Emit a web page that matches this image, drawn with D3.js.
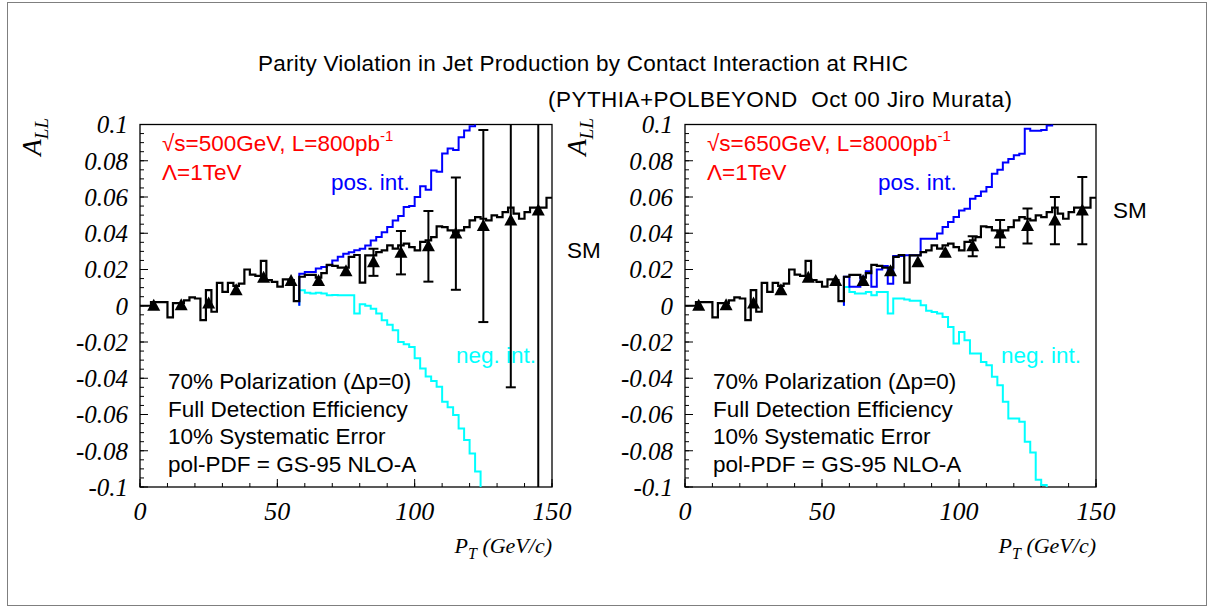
<!DOCTYPE html>
<html><head><meta charset="utf-8">
<script src="https://cdnjs.cloudflare.com/ajax/libs/d3/7.8.5/d3.min.js"></script>
<style>body{margin:0;background:#fff;} svg{display:block;}</style>
</head><body>
<svg id="c" width="1212" height="609"></svg>
<script>
// ---------------- data ----------------
const binWidth = 2;                       // GeV, fine histogram bins
const smBinLow = d3.range(0, 150, 2);     // 0..148
const smALL = [0.000, 0.000, 0.002, 0.002, 0.002, -0.0064, 0.0015, 0.0015, 0.003, 0.0046,
  0.004, -0.0079, 0.0086, -0.0033, 0.0126, 0.0077, 0.0126, 0.011, 0.0122, 0.020,
  0.0172, 0.0165, 0.0248, 0.0141, 0.0132, 0.0105, 0.0145, 0.0141, 0.0026, 0.016,
  0.017, 0.017, 0.0155, 0.018, 0.0225, 0.022, 0.021, 0.021, 0.027, 0.028,
  0.0128, 0.0278, 0.0278, 0.0296, 0.0306, 0.0333, 0.0315, 0.0333, 0.0343, 0.0324,
  0.0306, 0.0352, 0.0361, 0.0379, 0.0438, 0.0434, 0.0416, 0.0407, 0.0416, 0.0434,
  0.0471, 0.0489, 0.048, 0.0471, 0.0499, 0.0489, 0.0517, 0.0541, 0.0508, 0.048,
  0.0517, 0.0541, 0.0541, 0.0541, 0.0596];

const ciStart = 58;
const posIntLeft = [0.0177, 0.0186, 0.0186, 0.0205, 0.0214, 0.0223, 0.025, 0.027, 0.0287, 0.0295,
  0.0306, 0.0315, 0.0333, 0.036, 0.038, 0.0405, 0.0434, 0.047, 0.0495, 0.0545,
  0.055, 0.06, 0.066, 0.064, 0.0746, 0.074, 0.084, 0.0868, 0.086, 0.093,
  0.0967, 0.099, 0.105];
const negIntLeft = [0.0085, 0.0072, 0.0067, 0.0072, 0.0067, 0.0058, 0.006, 0.0058, 0.0058, 0.0058,
  -0.0043, 0.0008, 0.0000, -0.0016, -0.0043, -0.008, -0.0105, -0.0135, -0.02, -0.0213,
  -0.0227, -0.029, -0.0346, -0.039, -0.0415, -0.0447, -0.053, -0.056, -0.0603, -0.0677,
  -0.074, -0.0815, -0.0915, -0.105];
const posIntRight = [0.016, 0.0105, 0.0105, 0.016, 0.019, 0.0105, 0.020, 0.022, 0.0122, 0.0275,
  0.0275, 0.0278, 0.0278, 0.0278, 0.037, 0.037, 0.037, 0.0398, 0.0434, 0.0462,
  0.049, 0.0526, 0.0535, 0.059, 0.0605, 0.063, 0.0655, 0.0728, 0.075, 0.079,
  0.081, 0.083, 0.0838, 0.0976, 0.0965, 0.0965, 0.097, 0.0995, 0.106];
const negIntRight = [0.0104, 0.0076, 0.0067, 0.0067, 0.0076, 0.0058, 0.0076, 0.0076, -0.0043, 0.0040,
  0.0040, 0.0035, 0.0027, 0.0027, 0.0003, -0.0028, -0.0035, -0.0043, -0.0062, -0.0117,
  -0.0208, -0.0145, -0.019, -0.0264, -0.0264, -0.031, -0.0328, -0.0392, -0.0438, -0.053,
  -0.0622, -0.0622, -0.064, -0.075, -0.081, -0.096, -0.0989, -0.105];

const pointPT = [5, 15, 25, 35, 45, 55, 65, 75, 85, 95, 105, 115, 125, 135, 145];
const pointALL = [0.000, 0.0003, 0.0012, 0.0085, 0.0155, 0.0137, 0.0137, 0.019, 0.024, 0.0293,
  0.0328, 0.0398, 0.044, 0.047, 0.0525];
const errLeft = [0, 0, 0, 0, 0, 0.0008, 0.0015, 0.0025, 0.0075, 0.012, 0.0195, 0.031, 0.053, 0.092, 0.2];
const errRight = [0, 0, 0, 0, 0, 0, 0.0005, 0.001, 0.0018, 0.0025, 0.0055, 0.0075, 0.0097, 0.013, 0.0185];

const yTickLabels = ["-0.1", "-0.08", "-0.06", "-0.04", "-0.02", "0", "0.02", "0.04", "0.06", "0.08", "0.1"];
const xTickLabels = ["0", "50", "100", "150"];

const titleText = "Parity Violation in Jet Production by Contact Interaction at RHIC";
const subtitleText = "(PYTHIA+POLBEYOND\u00a0\u00a0Oct 00 Jiro Murata)";
const infoLines = ["70% Polarization (\u0394p=0)", "Full Detection Efficiency", "10% Systematic Error", "pol-PDF = GS-95 NLO-A"];

const panels = [
  {id: "L", left: 140, right: 552, energy: "\u221As=500GeV, L=800pb", pos: posIntLeft, neg: negIntLeft, err: errLeft,
   posLabel: [331, 190], negLabel: [456, 363], smLabel: [567, 258]},
  {id: "R", left: 685, right: 1096, energy: "\u221As=650GeV, L=8000pb", pos: posIntRight, neg: negIntRight, err: errRight,
   posLabel: [878, 190], negLabel: [1001, 363], smLabel: [1113, 218]}
];

// ---------------- drawing ----------------
const svg = d3.select("#c");
const SANS = "'Liberation Sans', Arial, Helvetica, sans-serif";
const SERIF = "'Liberation Serif', 'Times New Roman', serif";
const FS = 22.5;

svg.append("rect").attr("x", 7.5).attr("y", 2.5).attr("width", 1199).attr("height", 603)
  .attr("fill", "none").attr("stroke", "#7f7f7f").attr("stroke-width", 1);

svg.append("text").attr("x", 258).attr("y", 71)
  .attr("font-family", SANS).attr("font-size", 22.5).attr("fill", "#000")
  .attr("textLength", 650).attr("lengthAdjust", "spacing").text(titleText);
svg.append("text").attr("x", 548).attr("y", 107)
  .attr("font-family", SANS).attr("font-size", 22.5).attr("fill", "#000")
  .attr("textLength", 464).attr("lengthAdjust", "spacing").text(subtitleText);

const TOP = 124.5, BOTTOM = 487;

panels.forEach(p => {
  const x = d3.scaleLinear().domain([0, 150]).range([p.left, p.right]);
  const y = d3.scaleLinear().domain([-0.1, 0.1]).range([BOTTOM, TOP]);
  const g = svg.append("g");

  const clipId = "clip" + p.id;
  svg.append("clipPath").attr("id", clipId).append("rect")
    .attr("x", p.left).attr("y", TOP).attr("width", p.right - p.left).attr("height", BOTTOM - TOP);

  // frame
  g.append("rect").attr("x", p.left).attr("y", TOP).attr("width", p.right - p.left).attr("height", BOTTOM - TOP)
    .attr("fill", "none").attr("stroke", "#000").attr("stroke-width", 1.3);

  // y ticks
  const yMinor = d3.range(-0.1, 0.1001, 0.005);
  const yMajor = d3.range(-0.1, 0.1001, 0.02);
  g.selectAll(".ymin").data(yMinor).join("line")
    .attr("x1", p.left).attr("x2", p.left + 4)
    .attr("y1", d => y(d)).attr("y2", d => y(d)).attr("stroke", "#000").attr("stroke-width", 1);
  g.selectAll(".ymaj").data(yMajor).join("line")
    .attr("x1", p.left).attr("x2", p.left + 8)
    .attr("y1", d => y(d)).attr("y2", d => y(d)).attr("stroke", "#000").attr("stroke-width", 1);
  g.selectAll(".ylab").data(yTickLabels).join("text")
    .attr("x", p.left - 12).attr("y", d => y(+d)).attr("dy", "0.35em")
    .attr("text-anchor", "end").attr("font-family", SERIF).attr("font-style", "italic")
    .attr("font-size", 25).attr("fill", "#000").text(d => d);

  // x ticks
  const xMinor = d3.range(0, 151, 10);
  const xMajor = d3.range(0, 151, 50);
  g.selectAll(".xmin").data(xMinor).join("line")
    .attr("x1", d => x(d)).attr("x2", d => x(d)).attr("y1", BOTTOM).attr("y2", BOTTOM - 4)
    .attr("stroke", "#000").attr("stroke-width", 1);
  g.selectAll(".xmaj").data(xMajor).join("line")
    .attr("x1", d => x(d)).attr("x2", d => x(d)).attr("y1", BOTTOM).attr("y2", BOTTOM - 8)
    .attr("stroke", "#000").attr("stroke-width", 1);
  g.selectAll(".xlab").data(xTickLabels).join("text")
    .attr("x", d => x(+d)).attr("y", 520).attr("text-anchor", "middle")
    .attr("font-family", SERIF).attr("font-style", "italic").attr("font-size", 26)
    .attr("fill", "#000").text(d => d);

  // axis titles
  const xt = g.append("text").attr("x", p.right).attr("y", 553).attr("text-anchor", "end")
    .attr("font-family", SERIF).attr("font-style", "italic").attr("font-size", 22).attr("fill", "#000");
  xt.append("tspan").text("P");
  xt.append("tspan").attr("dy", 6).attr("font-size", 16).text("T");
  xt.append("tspan").attr("dy", -6).text(" (GeV/c)");

  const yt = g.append("text").attr("transform", `translate(${p.left - 99},118) rotate(-90)`)
    .attr("text-anchor", "end").attr("font-family", SERIF).attr("font-style", "italic")
    .attr("font-size", 27).attr("fill", "#000");
  yt.append("tspan").text("A");
  yt.append("tspan").attr("dy", 7).attr("font-size", 19).text("LL");

  const plot = svg.append("g").attr("clip-path", `url(#${clipId})`);

  const stepPath = (lows, vals, startFromZero) => {
    let d = `M${x(lows[0])},${y(startFromZero ? 0 : vals[0])}`;
    vals.forEach((v, i) => { d += `V${y(v)}H${x(lows[i] + binWidth)}`; });
    return d;
  };
  const ciLows = vals => vals.map((_, i) => ciStart + i * binWidth);

  // neg / pos interference
  plot.append("path").attr("d", stepPath(ciLows(p.neg), p.neg, true))
    .attr("fill", "none").attr("stroke", "#00ffff").attr("stroke-width", 2);
  plot.append("path").attr("d", stepPath(ciLows(p.pos), p.pos, true))
    .attr("fill", "none").attr("stroke", "#0000ff").attr("stroke-width", 2);
  // SM
  plot.append("path").attr("d", stepPath(smBinLow, smALL, false))
    .attr("fill", "none").attr("stroke", "#000").attr("stroke-width", 2.2);

  // error bars
  pointPT.forEach((pt, i) => {
    const e = p.err[i];
    if (e <= 0) return;
    const cx = x(pt), y1 = y(pointALL[i] + e), y2 = y(pointALL[i] - e);
    plot.append("line").attr("x1", cx).attr("x2", cx).attr("y1", y1).attr("y2", y2)
      .attr("stroke", "#000").attr("stroke-width", 2);
    if (y2 - y1 > 10) {
      [y1, y2].forEach(yy => plot.append("line").attr("x1", cx - 5).attr("x2", cx + 5)
        .attr("y1", yy).attr("y2", yy).attr("stroke", "#000").attr("stroke-width", 2));
    }
  });
  // triangles
  plot.selectAll(".tri").data(pointPT).join("path")
    .attr("d", (d, i) => { const cx = x(d), cy = y(pointALL[i]);
      return `M${cx},${cy - 7}L${cx + 6.5},${cy + 5}L${cx - 6.5},${cy + 5}Z`; })
    .attr("fill", "#000");

  // labels
  const red = g.append("text").attr("x", p.left + 22).attr("y", 151)
    .attr("font-family", SANS).attr("font-size", FS).attr("fill", "#ff0000");
  red.append("tspan").text(p.energy);
  red.append("tspan").attr("dy", -10).attr("font-size", 15).text("-1");
  g.append("text").attr("x", p.left + 22).attr("y", 180).attr("font-family", SANS)
    .attr("font-size", FS).attr("fill", "#ff0000").text("\u039B=1TeV");

  g.append("text").attr("x", p.posLabel[0]).attr("y", p.posLabel[1]).attr("font-family", SANS)
    .attr("font-size", FS).attr("fill", "#0000ff").text("pos. int.");
  g.append("text").attr("x", p.negLabel[0]).attr("y", p.negLabel[1]).attr("font-family", SANS)
    .attr("font-size", FS).attr("fill", "#00ffff").text("neg. int.");
  g.append("text").attr("x", p.smLabel[0]).attr("y", p.smLabel[1]).attr("font-family", SANS)
    .attr("font-size", FS).attr("fill", "#000").text("SM");

  g.selectAll(".info").data(infoLines).join("text")
    .attr("x", p.left + 28).attr("y", (d, i) => 389 + i * 27.5)
    .attr("font-family", SANS).attr("font-size", FS).attr("fill", "#000").text(d => d);
});
</script></body></html>
